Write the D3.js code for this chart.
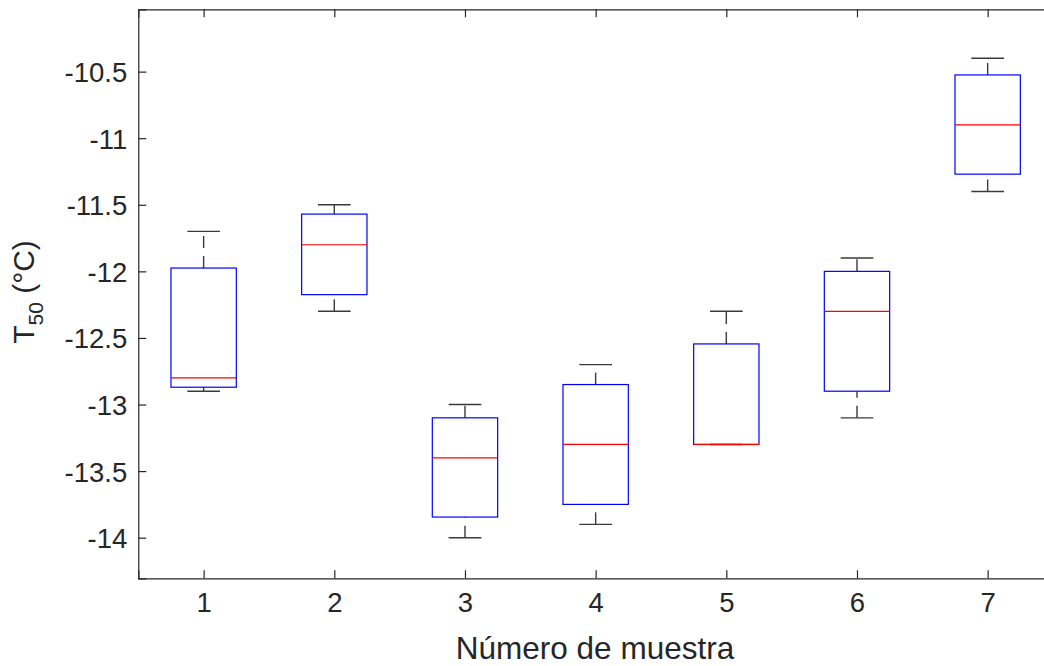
<!DOCTYPE html>
<html>
<head>
<meta charset="utf-8">
<script src="https://cdn.jsdelivr.net/npm/d3@7"></script>
<style>
  html, body { margin: 0; padding: 0; background: #fff; }
  svg { display: block; }
  text { font-family: "Liberation Sans", Arial, Helvetica, sans-serif; fill: #262626; }
</style>
</head>
<body>
<svg id="chart" width="1044" height="666"></svg>
<script>
// ---- Data ----
const samples      = [1, 2, 3, 4, 5, 6, 7];
const upperAdj     = [-11.7,  -11.5,  -13.0,  -12.7,  -12.3,  -11.9, -10.4];
const q3           = [-11.975,-11.57, -13.1,  -12.85, -12.545,-12.0, -10.525];
const medians      = [-12.8,  -11.8,  -13.4,  -13.3,  -13.3,  -12.3, -10.9];
const q1           = [-12.87, -12.175,-13.845,-13.75, -13.3,  -12.9, -11.27];
const lowerAdj     = [-12.9,  -12.3,  -14.0,  -13.9,  -13.3,  -13.1, -11.4];
const yTicks       = [-14, -13.5, -13, -12.5, -12, -11.5, -11, -10.5];
const xLabel = "Número de muestra";

const svg = d3.select("#chart");
const mLeft = 138.3, mTop = 9.3, mBottom = 578.3, mRight = 1053;
const x = d3.scaleLinear().domain([0.5, 7.5]).range([mLeft, mRight]);
const y = d3.scaleLinear().domain([-14.305, -10.032]).range([mBottom, mTop]);
const axisColor = "#262626";
const whiskerColor = "#3a3a3a";

// Boxes
const data = samples.map((s, i) => ({s, ua: upperAdj[i], q3: q3[i], med: medians[i], q1: q1[i], la: lowerAdj[i]}));
const g = svg.append("g");
const halfBox = 0.25, halfCap = 0.125;

data.forEach(d => {
  // whiskers (dashed)
  if (d.ua > d.q3) {
    g.append("line").attr("x1", x(d.s)).attr("x2", x(d.s))
      .attr("y1", y(d.q3)).attr("y2", y(d.ua))
      .attr("stroke", whiskerColor).attr("stroke-width", 1.4).attr("stroke-dasharray", "12,8");
  }
  if (d.la < d.q1) {
    g.append("line").attr("x1", x(d.s)).attr("x2", x(d.s))
      .attr("y1", y(d.la)).attr("y2", y(d.q1))
      .attr("stroke", whiskerColor).attr("stroke-width", 1.4).attr("stroke-dasharray", "12,8");
  }
  // caps
  [d.ua, d.la].forEach(v => {
    g.append("line").attr("x1", x(d.s - halfCap)).attr("x2", x(d.s + halfCap))
      .attr("y1", y(v)).attr("y2", y(v))
      .attr("stroke", whiskerColor).attr("stroke-width", 1.4);
  });
  // box
  g.append("rect")
    .attr("x", x(d.s - halfBox)).attr("width", x(d.s + halfBox) - x(d.s - halfBox))
    .attr("y", y(d.q3)).attr("height", y(d.q1) - y(d.q3))
    .attr("fill", "none").attr("stroke", "#0000ff").attr("stroke-width", 1.2);
  // median
  g.append("line").attr("x1", x(d.s - halfBox)).attr("x2", x(d.s + halfBox))
    .attr("y1", y(d.med)).attr("y2", y(d.med))
    .attr("stroke", "#ff0000").attr("stroke-width", 1.2);
});

// Axes
const fmt = d => String(d);
const tickLen = 8;
const yAxisL = svg.append("g").attr("transform", `translate(${mLeft},0)`)
  .call(d3.axisLeft(y).tickValues(yTicks).tickFormat(fmt).tickSize(-tickLen).tickPadding(11));
const yAxisR = svg.append("g").attr("transform", `translate(${mRight},0)`)
  .call(d3.axisRight(y).tickValues(yTicks).tickFormat("").tickSize(-tickLen));
const xAxisB = svg.append("g").attr("transform", `translate(0,${mBottom})`)
  .call(d3.axisBottom(x).tickValues(samples).tickFormat(fmt).tickSize(-tickLen).tickPadding(14));
const xAxisT = svg.append("g").attr("transform", `translate(0,${mTop})`)
  .call(d3.axisTop(x).tickValues(samples).tickFormat("").tickSize(-tickLen));

[yAxisL, yAxisR, xAxisB, xAxisT].forEach(a => {
  a.select(".domain").attr("stroke", axisColor).attr("stroke-width", 1.2);
  a.selectAll(".tick line").attr("stroke", axisColor).attr("stroke-width", 1.2);
  a.selectAll("text").attr("fill", axisColor).style("font-size", "27.5px")
    .style("font-family", '"Liberation Sans", Arial, sans-serif');
});
yAxisL.selectAll("text").attr("dy", "0.36em");
xAxisB.selectAll("text").attr("dy", "0.71em");

// X label
svg.append("text").attr("x", 595).attr("y", 658.5)
  .attr("text-anchor", "middle").style("font-size", "31.5px").text(xLabel);

// Y label
const yl = svg.append("text")
  .attr("transform", `translate(34,292) rotate(-90)`)
  .attr("text-anchor", "middle").style("font-size", "30px");
yl.append("tspan").text("T");
yl.append("tspan").attr("dy", 9).style("font-size", "21px").text("50");
yl.append("tspan").attr("dy", -9).text(" (°C)");
</script>
</body>
</html>
